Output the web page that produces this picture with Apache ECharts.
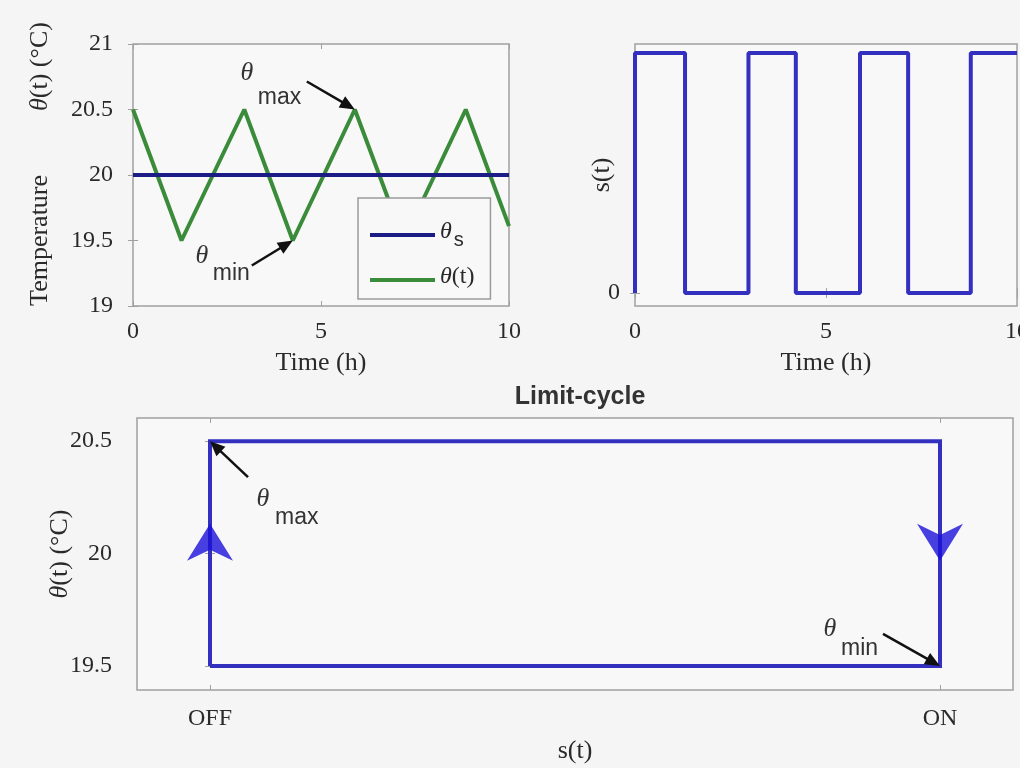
<!DOCTYPE html>
<html>
<head>
<meta charset="utf-8">
<script src="https://cdn.jsdelivr.net/npm/echarts@6/dist/echarts.min.js"></script>
<style>
  html, body { margin: 0; padding: 0; background: #f5f5f5; }
  #chart { width: 1020px; height: 768px; }
</style>
</head>
<body>
<div id="chart"></div>
<script>
// Room temperature under on/off control: theta(t), switch state s(t), and the limit cycle.
const tempTime  = [0, 1.29, 2.96, 4.25, 5.9, 7.2, 8.85, 10];
const tempValue = [20.5, 19.5, 20.5, 19.5, 20.5, 19.5, 20.5, 19.61];
const setpointTime  = [0, 10];
const setpointValue = [20, 20];

// switch state held from each time until the next
const switchTime  = [0, 0, 1.31, 2.97, 4.21, 5.89, 7.15, 8.79, 10];
const switchState = [0, 1, 0, 1, 0, 1, 0, 1, 1];

// limit cycle in the (s, theta) plane
const cycleState = [0, 0, 1, 1, 0];
const cycleTemp  = [19.5, 20.5, 20.5, 19.5, 19.5];
// direction markers along the cycle
const flowState = [0, 1];
const flowTemp  = [20.05, 20.05];
const flowAngle = [0, 180];

const timeTicks = [0, 5, 10];
const tempTicks = [19, 19.5, 20, 20.5, 21];
const cycleTempTicks = [19.5, 20, 20.5];
const stateLabels = ['OFF', 'ON'];

// labelled arrows pointing at extreme temperatures (offsets in pixels)
const notes = [
  { grid: 0, at: [5.9, 20.5], tail: [-48, -28], theta: [-60, -8], sub: 'max', subAt: [11, 24] },
  { grid: 0, at: [4.25, 19.5], tail: [-41, 25], theta: [-50, -9], sub: 'min', subAt: [11, 17] },
  { grid: 2, at: [0, 20.5], tail: [38, 36], theta: [15, 22], sub: 'max', subAt: [12, 19] },
  { grid: 2, at: [1, 19.5], tail: [-57, -32], theta: [-53, -5], sub: 'min', subAt: [11, 20] }
];

const BG = '#f5f5f5';
const PLOT_BG = '#f8f8f8';
const FRAME = '#a0a0a0';
const TXT = '#2a2a2a';
const SERIF = '"Liberation Serif", "DejaVu Serif", serif';
const SANS = '"Liberation Sans", Arial, sans-serif';
const BLUE = '#3330c0';
const NAVY = '#1c1c86';
const GREEN = '#3a8c3a';
const TICK_FONT = 24;
const NAME_FONT = 26;

const zip = (a, b) => a.map((v, i) => [v, b[i]]);
const ticks = vals => ({ show: true, inside: true, length: 5, lineStyle: { color: FRAME, width: 1 }, customValues: vals });

function frameAxis(extra) {
  return Object.assign({
    type: 'value',
    axisLine: { show: false },
    splitLine: { show: false }
  }, extra);
}
function mirrorAxis(extra) {
  return Object.assign({
    type: 'value',
    axisLine: { show: false },
    splitLine: { show: false },
    axisLabel: { show: false }
  }, extra);
}
function gridBox(left, top, width, height) {
  return {
    left, top, width, height,
    outerBoundsMode: 'none', containLabel: false,
    show: true, borderColor: FRAME, borderWidth: 1.5, backgroundColor: PLOT_BG
  };
}

const chart = echarts.init(document.getElementById('chart'), null, { renderer: 'canvas' });

const option = {
  backgroundColor: BG,
  animation: false,
  title: {
    text: 'Limit-cycle',
    left: 575, top: 380, textAlign: 'center',
    textStyle: { fontFamily: SANS, fontSize: 25, fontWeight: 'bold', color: '#333' }
  },
  grid: [
    gridBox(133, 44, 376, 262),
    gridBox(635, 44, 382, 262),
    gridBox(137, 418, 876, 272)
  ],
  legend: {
    left: 358, top: 198,
    orient: 'vertical',
    data: ['θs', 'θ(t)'],
    icon: 'rect',
    itemWidth: 65, itemHeight: 4, itemGap: 15,
    padding: [16, 16, 10, 12],
    backgroundColor: PLOT_BG,
    borderColor: '#9a9a9a', borderWidth: 1.5, borderRadius: 0,
    selectedMode: false,
    formatter: function (name) {
      return name === 'θs' ? '{th|θ}{sb|s}' : '{th|θ}{n|(t)}';
    },
    textStyle: {
      color: TXT,
      rich: {
        th: { fontFamily: SERIF, fontStyle: 'italic', fontSize: 24, color: TXT, verticalAlign: 'top', lineHeight: 30 },
        sb: { fontFamily: SANS, fontSize: 20, color: TXT, verticalAlign: 'bottom', lineHeight: 18, padding: [16, 0, 0, 2] },
        n: { fontFamily: SERIF, fontSize: 24, color: TXT, verticalAlign: 'top', lineHeight: 30 }
      }
    }
  },
  xAxis: [
    frameAxis({
      gridIndex: 0, min: 0, max: 10,
      name: 'Time (h)', nameLocation: 'middle', nameGap: 44,
      nameTextStyle: { fontFamily: SERIF, fontSize: NAME_FONT, color: TXT },
      axisLabel: { color: TXT, fontFamily: SERIF, fontSize: TICK_FONT, margin: 14, customValues: timeTicks },
      axisTick: ticks(timeTicks)
    }),
    frameAxis({
      gridIndex: 1, min: 0, max: 10,
      name: 'Time (h)', nameLocation: 'middle', nameGap: 44,
      nameTextStyle: { fontFamily: SERIF, fontSize: NAME_FONT, color: TXT },
      axisLabel: { color: TXT, fontFamily: SERIF, fontSize: TICK_FONT, margin: 14, customValues: timeTicks },
      axisTick: ticks(timeTicks)
    }),
    frameAxis({
      gridIndex: 2, min: -0.1, max: 1.1,
      name: 's(t)', nameLocation: 'middle', nameGap: 48,
      nameTextStyle: { fontFamily: SERIF, fontSize: NAME_FONT, color: TXT },
      axisLabel: {
        color: TXT, fontFamily: SERIF, fontSize: TICK_FONT, margin: 17,
        customValues: [0, 1],
        formatter: v => stateLabels[Math.round(v)]
      },
      axisTick: ticks([0, 1])
    }),
    mirrorAxis({ gridIndex: 0, position: 'top', min: 0, max: 10, axisTick: ticks(timeTicks) }),
    mirrorAxis({ gridIndex: 1, position: 'top', min: 0, max: 10, axisTick: ticks(timeTicks) }),
    mirrorAxis({ gridIndex: 2, position: 'top', min: -0.1, max: 1.1, axisTick: ticks([0, 1]) })
  ],
  yAxis: [
    frameAxis({
      gridIndex: 0, min: 19, max: 21,
      name: '{pad|}{a|Temperature}{gap|}{th|θ}{b|(t) (°C)}',
      nameLocation: 'middle', nameRotate: 90, nameGap: 80,
      nameTextStyle: {
        color: TXT,
        rich: {
          pad: { width: 22 },
          a: { fontFamily: SERIF, fontSize: NAME_FONT, color: TXT },
          gap: { width: 64 },
          th: { fontFamily: SERIF, fontStyle: 'italic', fontSize: NAME_FONT, color: TXT },
          b: { fontFamily: SERIF, fontSize: NAME_FONT, color: TXT }
        }
      },
      axisLabel: { color: TXT, fontFamily: SERIF, fontSize: TICK_FONT, margin: 20, customValues: tempTicks },
      axisTick: ticks(tempTicks)
    }),
    frameAxis({
      gridIndex: 1, min: -0.054, max: 1.0375,
      name: 's(t)', nameLocation: 'middle', nameRotate: 90, nameGap: 20,
      nameMoveOverlap: false,
      nameTextStyle: { fontFamily: SERIF, fontSize: NAME_FONT, color: TXT },
      axisLabel: { color: TXT, fontFamily: SERIF, fontSize: TICK_FONT, margin: 15, customValues: [0] },
      axisTick: ticks([0])
    }),
    frameAxis({
      gridIndex: 2, min: 19.393, max: 20.603,
      name: '{th|θ}{b|(t) (°C)}',
      nameLocation: 'middle', nameRotate: 90, nameGap: 64,
      nameMoveOverlap: false,
      nameTextStyle: {
        color: TXT,
        rich: {
          th: { fontFamily: SERIF, fontStyle: 'italic', fontSize: NAME_FONT, color: TXT },
          b: { fontFamily: SERIF, fontSize: NAME_FONT, color: TXT }
        }
      },
      axisLabel: { color: TXT, fontFamily: SERIF, fontSize: TICK_FONT, margin: 25, customValues: cycleTempTicks },
      axisTick: ticks(cycleTempTicks)
    }),
    mirrorAxis({ gridIndex: 0, position: 'right', min: 19, max: 21, axisTick: ticks(tempTicks) }),
    mirrorAxis({ gridIndex: 1, position: 'right', min: -0.054, max: 1.0375, axisTick: ticks([0]) }),
    mirrorAxis({ gridIndex: 2, position: 'right', min: 19.393, max: 20.603, axisTick: ticks(cycleTempTicks) })
  ],
  series: [
    {
      name: 'θs', type: 'line', xAxisIndex: 0, yAxisIndex: 0,
      data: zip(setpointTime, setpointValue),
      showSymbol: false, color: NAVY,
      lineStyle: { color: NAVY, width: 4 }, z: 3
    },
    {
      name: 'θ(t)', type: 'line', xAxisIndex: 0, yAxisIndex: 0,
      data: zip(tempTime, tempValue),
      showSymbol: false, color: GREEN,
      lineStyle: { color: GREEN, width: 4 }, z: 2
    },
    {
      name: 's', type: 'line', xAxisIndex: 1, yAxisIndex: 1,
      data: zip(switchTime, switchState),
      step: 'end', showSymbol: false,
      lineStyle: { color: BLUE, width: 4 }
    },
    {
      name: 'cycle', type: 'line', xAxisIndex: 2, yAxisIndex: 2,
      data: zip(cycleState, cycleTemp),
      showSymbol: false,
      lineStyle: { color: BLUE, width: 4, join: 'miter' }
    },
    {
      name: 'flow', type: 'scatter', xAxisIndex: 2, yAxisIndex: 2,
      data: flowState.map((s, i) => ({ value: [s, flowTemp[i]], symbolRotate: flowAngle[i] })),
      symbol: 'path://M50 0 L100 100 L50 70 L0 100 Z',
      symbolSize: [46, 37],
      itemStyle: { color: '#1a10d8' },
      z: 4
    }
  ]
};

chart.setOption(option);

// arrows and labels for the extreme temperatures, placed through the axes' scales
function noteGraphics() {
  const out = [];
  notes.forEach(n => {
    const tip = chart.convertToPixel({ gridIndex: n.grid }, n.at);
    const tail = [tip[0] + n.tail[0], tip[1] + n.tail[1]];
    const dx = tip[0] - tail[0], dy = tip[1] - tail[1];
    const len = Math.hypot(dx, dy);
    const ux = dx / len, uy = dy / len;
    const head = 15, half = 6.5;
    const base = [tip[0] - ux * head, tip[1] - uy * head];
    out.push({
      type: 'line', z: 10,
      shape: { x1: tail[0], y1: tail[1], x2: base[0] + ux * 2, y2: base[1] + uy * 2 },
      style: { stroke: '#111', lineWidth: 2.5 }
    });
    out.push({
      type: 'polygon', z: 10,
      shape: { points: [tip, [base[0] - uy * half, base[1] + ux * half], [base[0] + uy * half, base[1] - ux * half]] },
      style: { fill: '#111' }
    });
    const th = [tail[0] + n.theta[0], tail[1] + n.theta[1]];
    out.push({
      type: 'text', z: 10, x: th[0], y: th[1],
      style: { text: 'θ', font: 'italic 26px ' + SERIF, fill: '#333', align: 'center', verticalAlign: 'middle' }
    });
    out.push({
      type: 'text', z: 10, x: th[0] + n.subAt[0], y: th[1] + n.subAt[1],
      style: { text: n.sub, font: '23px ' + SANS, fill: '#333', align: 'left', verticalAlign: 'middle' }
    });
  });
  return out;
}
chart.setOption({ graphic: noteGraphics() });
</script>
</body>
</html>
